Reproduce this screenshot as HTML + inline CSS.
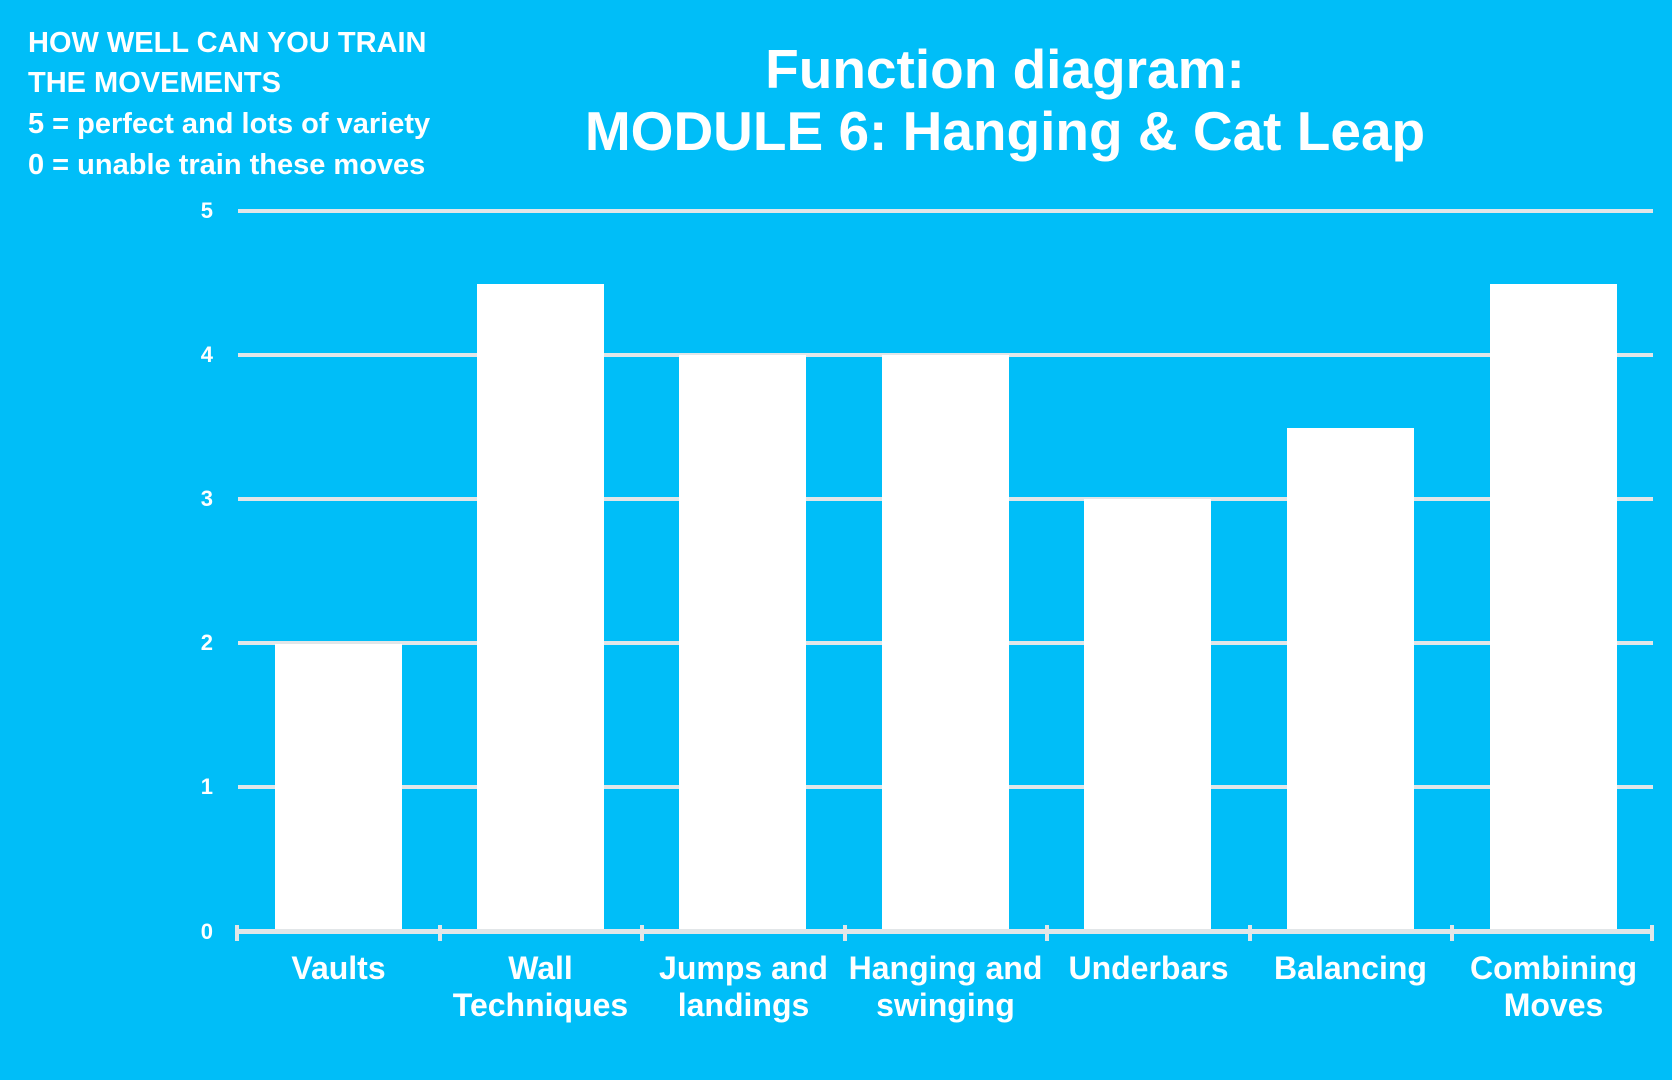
<!DOCTYPE html>
<html><head><meta charset="utf-8"><style>
body{margin:0;width:1672px;height:1080px;background:#00BEF8;overflow:hidden;position:relative;font-family:"Liberation Sans",Arial,sans-serif;color:#fff;font-weight:bold}
.n{position:absolute}
.g{position:absolute;left:238px;width:1415px;height:4px;background:#E2E6E8}
.b{position:absolute;width:127px;background:#fff}
.yl{position:absolute;left:180px;width:33px;text-align:right;font-size:22px}
.xl{position:absolute;top:950px;width:203px;text-align:center;font-size:32px;line-height:37px;white-space:nowrap}
.t{position:absolute;top:925px;width:4px;height:16px;background:#E2E6E8}
.tl{position:absolute;left:28px;font-size:29px;line-height:30px;white-space:nowrap}
</style></head><body>
<div class="tl" style="top:28px">HOW WELL CAN YOU TRAIN</div>
<div class="tl" style="top:68px">THE MOVEMENTS</div>
<div class="tl" style="top:109px">5 = perfect and lots of variety</div>
<div class="tl" style="top:150px">0 = unable train these moves</div>
<div class="n" style="left:450px;width:1110px;top:38px;text-align:center;font-size:55px;line-height:62px">Function diagram:<br>MODULE 6: Hanging &amp; Cat Leap</div>

<div class="g" style="top:209px"></div>
<div class="g" style="top:353px"></div>
<div class="g" style="top:497px"></div>
<div class="g" style="top:641px"></div>
<div class="g" style="top:785px"></div>

<div class="yl" style="top:198px">5</div>
<div class="yl" style="top:342px">4</div>
<div class="yl" style="top:486px">3</div>
<div class="yl" style="top:630px">2</div>
<div class="yl" style="top:774px">1</div>
<div class="yl" style="top:919px">0</div>

<div class="b" style="left:275px;top:644px;height:289px"></div>
<div class="b" style="left:477px;top:284px;height:649px"></div>
<div class="b" style="left:679px;top:355px;height:578px"></div>
<div class="b" style="left:882px;top:355px;height:578px"></div>
<div class="b" style="left:1084px;top:499px;height:434px"></div>
<div class="b" style="left:1287px;top:428px;height:505px"></div>
<div class="b" style="left:1490px;top:284px;height:649px"></div>

<div class="n" style="left:235px;top:929px;width:1418px;height:5px;background:#E2E6E8"></div>
<div class="t" style="left:235px"></div>
<div class="t" style="left:438px"></div>
<div class="t" style="left:640px"></div>
<div class="t" style="left:843px"></div>
<div class="t" style="left:1045px"></div>
<div class="t" style="left:1248px"></div>
<div class="t" style="left:1450px"></div>
<div class="t" style="left:1650px"></div>

<div class="xl" style="left:237px">Vaults</div>
<div class="xl" style="left:439px">Wall<br>Techniques</div>
<div class="xl" style="left:642px">Jumps and<br>landings</div>
<div class="xl" style="left:844px">Hanging and<br>swinging</div>
<div class="xl" style="left:1047px">Underbars</div>
<div class="xl" style="left:1249px">Balancing</div>
<div class="xl" style="left:1452px">Combining<br>Moves</div>
</body></html>
